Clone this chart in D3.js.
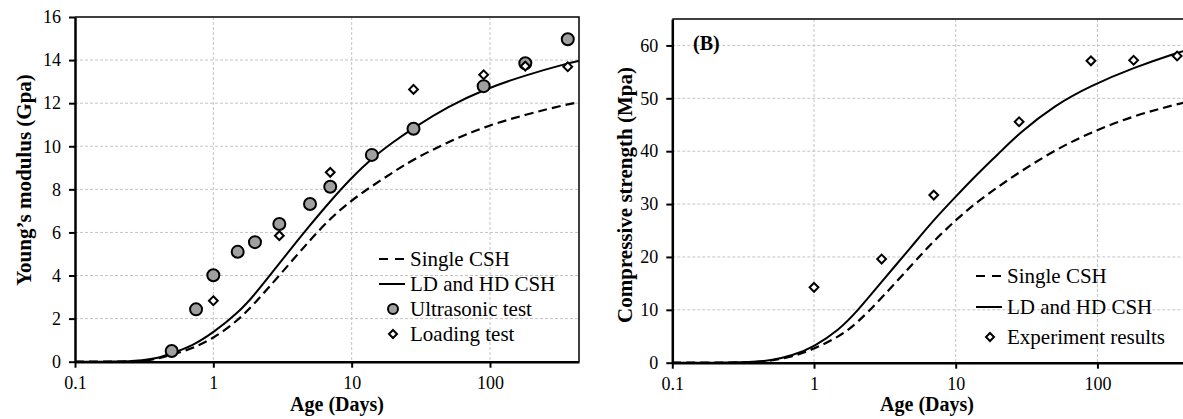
<!DOCTYPE html>
<html lang="en">
<head>
<meta charset="utf-8">
<title>Young's modulus and compressive strength</title>
<script src="https://cdn.jsdelivr.net/npm/d3@7"></script>
<style>
  body { margin: 0; background: #fff; }
  svg text { font-family: "Liberation Serif", "Times New Roman", serif; fill: #000; }
  .grid line { stroke: #c4c4c4; stroke-width: 1; stroke-dasharray: 3,2; }
  .axis text { font-size: 18px; font-family: "Liberation Serif", "Times New Roman", serif; }
  .axis .domain, .axis line { stroke: #000; }
</style>
</head>
<body>
<div id="chart"></div>
<script>
(function(d3) {
  'use strict';

  // ages used for the model curves (days)
  var modelAges = [0.1, 0.2, 0.3, 0.4, 0.5, 0.7, 1, 1.5, 2, 3, 5, 7, 10, 14, 20, 28, 50, 90, 180, 365, 440];

  // panel A: Young's modulus (GPa)
  var modulusSingle = [0, 0, 0.03, 0.14, 0.32, 0.6, 1.08, 1.9, 2.72, 4.0, 5.65, 6.65, 7.5, 8.15, 8.8, 9.4, 10.2, 10.9, 11.47, 11.96, 12.04];
  var modulusLdHd = [0, 0, 0.04, 0.17, 0.38, 0.72, 1.35, 2.25, 3.12, 4.57, 6.34, 7.45, 8.55, 9.45, 10.2, 10.86, 11.85, 12.63, 13.3, 13.85, 13.96];
  var ultrasonicAges = [0.5, 0.75, 1, 1.5, 2, 3, 5, 7, 14, 28, 90, 180, 365];
  var ultrasonicValues = [0.5, 2.43, 4.01, 5.1, 5.55, 6.39, 7.32, 8.12, 9.6, 10.81, 12.79, 13.85, 14.97];
  var loadingAges = [1, 3, 7, 28, 90, 180, 365];
  var loadingValues = [2.83, 5.85, 8.79, 12.64, 13.32, 13.72, 13.69];

  // panel B: compressive strength (MPa)
  var strengthSingle = [0, 0, 0.04, 0.15, 0.38, 1.1, 2.6, 4.9, 7.4, 12.2, 18.8, 23.0, 27.0, 30.3, 33.3, 36.0, 40.2, 43.6, 46.7, 48.9, 49.4];
  var strengthLdHd = [0, 0, 0.05, 0.2, 0.45, 1.3, 3.0, 6.2, 9.6, 15.3, 22.3, 27.0, 31.4, 35.5, 39.5, 43.4, 48.7, 52.4, 55.8, 58.6, 59.2];
  var experimentAges = [1, 3, 7, 28, 90, 180, 365];
  var experimentValues = [14.25, 19.6, 31.7, 45.56, 57.09, 57.2, 58.0];

  var xTicks = [0.1, 1, 10, 100];
  var modulusTicks = [0, 2, 4, 6, 8, 10, 12, 14, 16];
  var strengthTicks = [0, 10, 20, 30, 40, 50, 60];

  var width = 1183;
  var height = 419;

  var svg = d3.select('#chart')
    .append('svg')
    .attr('width', width)
    .attr('height', height)
    .attr('font-family', '"Liberation Serif", "Times New Roman", serif');

  function diamond(s) {
    return 'M0,' + (-s) + 'L' + s + ',0L0,' + s + 'L' + (-s) + ',0Z';
  }

  function drawPanel(opt) {
    var g = svg.append('g');
    var x = d3.scaleLog().domain(opt.xDomain).range([opt.left, opt.right]);
    var y = d3.scaleLinear().domain(opt.yDomain).range([opt.bottom, opt.top]);

    // grid
    var grid = g.append('g').attr('class', 'grid');
    grid.selectAll('.gx')
      .data(xTicks.slice(1))
      .enter().append('line')
      .attr('x1', function(d) { return x(d); })
      .attr('x2', function(d) { return x(d); })
      .attr('y1', opt.top).attr('y2', opt.bottom);
    grid.selectAll('.gy')
      .data(opt.yTicks.filter(function(d) { return d > 0 && y(d) > opt.top + 1; }))
      .enter().append('line')
      .attr('x1', opt.left).attr('x2', opt.right)
      .attr('y1', function(d) { return y(d); })
      .attr('y2', function(d) { return y(d); });

    var line = d3.line()
      .x(function(d) { return x(d[0]); })
      .y(function(d) { return y(d[1]); })
      .curve(d3.curveBasis);

    g.append('path')
      .datum(d3.zip(modelAges, opt.single))
      .attr('d', line)
      .attr('fill', 'none')
      .attr('stroke', '#000')
      .attr('stroke-width', 2.2)
      .attr('stroke-dasharray', '9,5');

    g.append('path')
      .datum(d3.zip(modelAges, opt.ldhd))
      .attr('d', line)
      .attr('fill', 'none')
      .attr('stroke', '#000')
      .attr('stroke-width', 2);

    if (opt.circles) {
      g.selectAll('.circ')
        .data(d3.zip(opt.circles[0], opt.circles[1]))
        .enter().append('circle')
        .attr('cx', function(d) { return x(d[0]); })
        .attr('cy', function(d) { return y(d[1]); })
        .attr('r', 6)
        .attr('fill', '#a0a0a0')
        .attr('stroke', '#000')
        .attr('stroke-width', 2);
    }

    g.selectAll('.diam')
      .data(d3.zip(opt.diamonds[0], opt.diamonds[1]))
      .enter().append('path')
      .attr('d', diamond(4.4))
      .attr('transform', function(d) { return 'translate(' + x(d[0]) + ',' + y(d[1]) + ')'; })
      .attr('fill', '#fff')
      .attr('stroke', '#000')
      .attr('stroke-width', 2);

    // frame (top / right)
    g.append('path')
      .attr('d', 'M' + opt.left + ',' + opt.top + 'H' + opt.right + 'V' + opt.bottom)
      .attr('fill', 'none')
      .attr('stroke', '#000')
      .attr('stroke-width', 1.5);

    var xAxis = g.append('g')
      .attr('class', 'axis')
      .attr('transform', 'translate(0,' + opt.bottom + ')')
      .call(d3.axisBottom(x).tickValues(xTicks).tickFormat(function(d) { return d; })
        .tickSize(6).tickSizeOuter(0).tickPadding(9));
    xAxis.select('.domain').attr('stroke-width', 2.5);
    xAxis.selectAll('line').attr('stroke-width', 2);

    var yAxis = g.append('g')
      .attr('class', 'axis')
      .attr('transform', 'translate(' + opt.left + ',0)')
      .call(d3.axisLeft(y).tickValues(opt.yTicks).tickSize(6).tickSizeOuter(0).tickPadding(8));
    yAxis.select('.domain').attr('stroke-width', 2.5);
    yAxis.selectAll('line').attr('stroke-width', 2);

    g.append('text')
      .attr('x', opt.xTitleX)
      .attr('y', 411)
      .attr('text-anchor', 'middle')
      .attr('font-size', 20)
      .attr('font-weight', 'bold')
      .text('Age (Days)');

    g.append('text')
      .attr('transform', 'translate(' + opt.yTitleX + ',' + opt.yTitleY + ') rotate(-90)')
      .attr('text-anchor', 'middle')
      .attr('font-size', 21)
      .attr('font-weight', 'bold')
      .text(opt.yTitle);

    // legend
    var lg = g.append('g').attr('font-size', 21);
    opt.legend.forEach(function(item, i) {
      var cy = opt.legendY[i];
      if (item.type === 'dash' || item.type === 'solid') {
        lg.append('line')
          .attr('x1', opt.legendX).attr('x2', opt.legendX + 26)
          .attr('y1', cy).attr('y2', cy)
          .attr('stroke', '#000')
          .attr('stroke-width', 2)
          .attr('stroke-dasharray', item.type === 'dash' ? '9,7' : null);
      } else if (item.type === 'circle') {
        lg.append('circle')
          .attr('cx', opt.legendX + 14).attr('cy', cy).attr('r', 5)
          .attr('fill', '#a0a0a0').attr('stroke', '#000').attr('stroke-width', 2);
      } else {
        lg.append('path')
          .attr('d', diamond(4))
          .attr('transform', 'translate(' + (opt.legendX + 14) + ',' + cy + ')')
          .attr('fill', '#fff').attr('stroke', '#000').attr('stroke-width', 2);
      }
      lg.append('text')
        .attr('x', opt.legendX + 31)
        .attr('y', cy)
        .attr('dy', '0.35em')
        .text(item.label);
    });
    return g;
  }

  drawPanel({
    left: 75, right: 579, top: 17, bottom: 361.7,
    xDomain: [0.1, 440], yDomain: [0, 16], yTicks: modulusTicks,
    single: modulusSingle, ldhd: modulusLdHd,
    circles: [ultrasonicAges, ultrasonicValues],
    diamonds: [loadingAges, loadingValues],
    xTitleX: 337, yTitleX: 31, yTitleY: 180,
    yTitle: 'Young\u2019s modulus (Gpa)',
    legendX: 379, legendY: [259, 284, 309, 334],
    legend: [
      { type: 'dash', label: 'Single CSH' },
      { type: 'solid', label: 'LD and HD CSH' },
      { type: 'circle', label: 'Ultrasonic test' },
      { type: 'diamond', label: 'Loading test' }
    ]
  });

  var right = drawPanel({
    left: 672.3, right: 1190, top: 19, bottom: 362.7,
    xDomain: [0.1, 450], yDomain: [0, 65], yTicks: strengthTicks,
    single: strengthSingle, ldhd: strengthLdHd,
    circles: null,
    diamonds: [experimentAges, experimentValues],
    xTitleX: 927, yTitleX: 632, yTitleY: 195,
    yTitle: 'Compressive strength (Mpa)',
    legendX: 976, legendY: [276, 307, 337],
    legend: [
      { type: 'dash', label: 'Single CSH' },
      { type: 'solid', label: 'LD and HD CSH' },
      { type: 'diamond', label: 'Experiment results' }
    ]
  });

  right.append('text')
    .attr('x', 693)
    .attr('y', 50)
    .attr('font-size', 20)
    .attr('font-weight', 'bold')
    .text('(B)');

})(window.d3);
</script>
</body>
</html>
